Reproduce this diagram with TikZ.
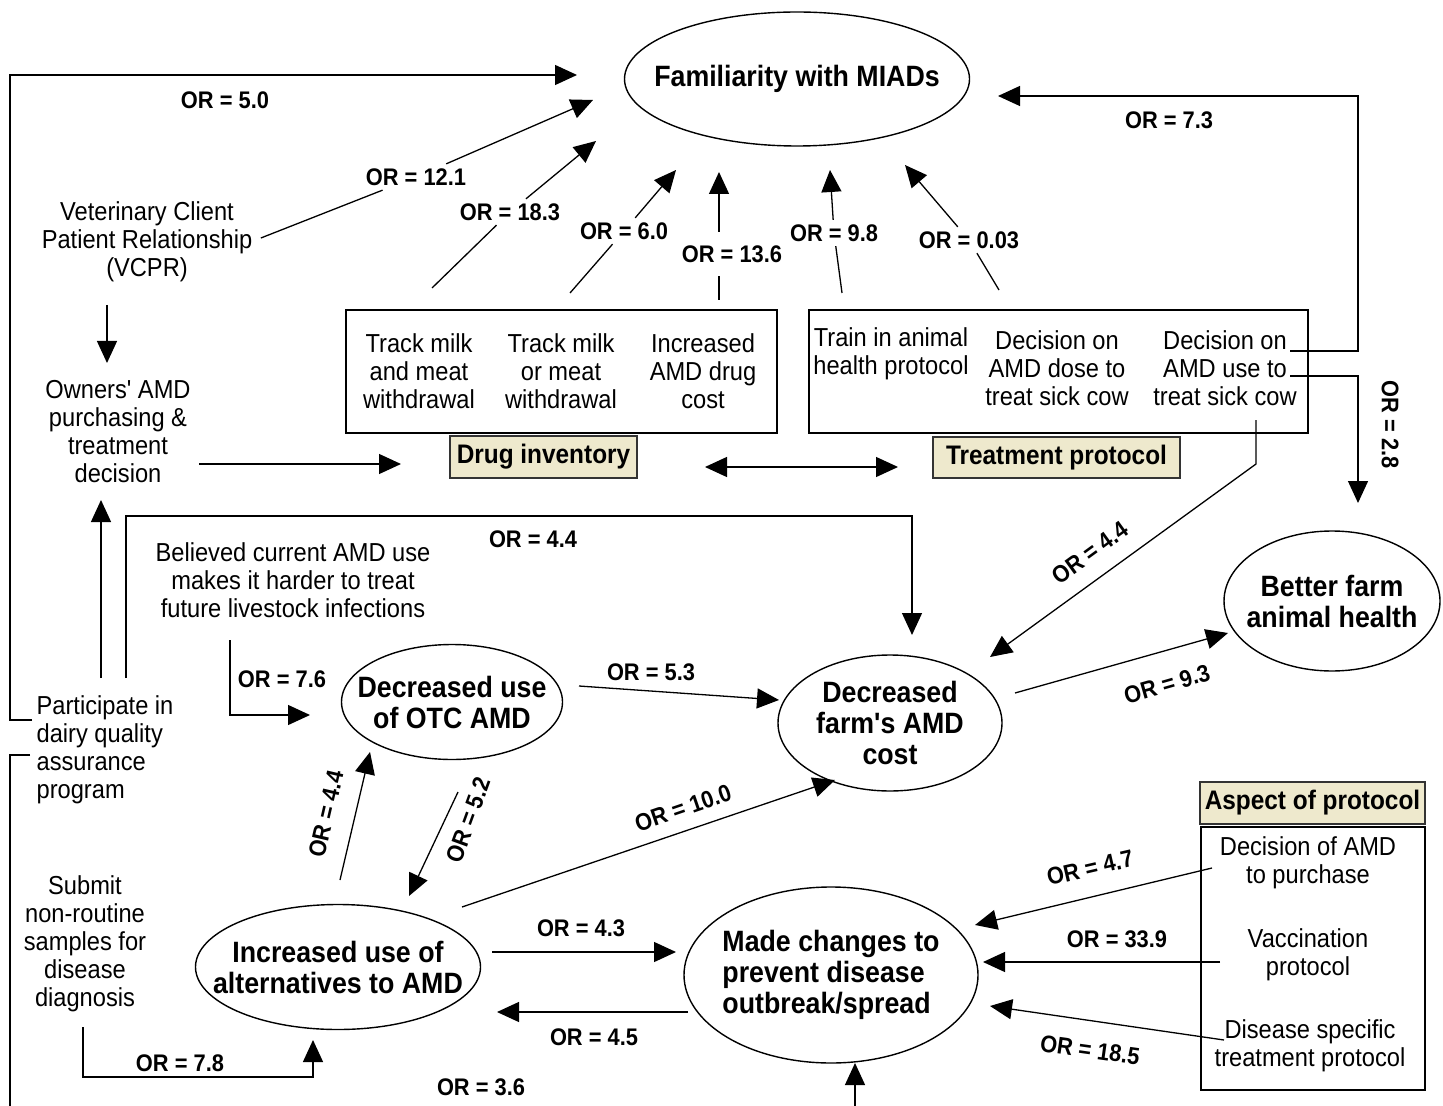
\documentclass[tikz,border=0pt]{standalone}
\usepackage{fontspec}
\setmainfont{Liberation Sans}[FakeStretch=0.91, Ligatures=TeXOff]
\usetikzlibrary{shapes.geometric,arrows.meta}

\definecolor{tagfill}{HTML}{EEE9CD}

\tikzset{
  txt/.style={align=center, inner sep=0pt, font=\fontsize{13}{14}\selectfont},
  orlab/.style={inner sep=2pt, font=\bfseries\fontsize{12}{13}\selectfont},
  oval/.style={draw, ellipse, inner sep=0pt, line width=0.7pt},
  ovaltxt/.style={align=center, inner sep=0pt, font=\bfseries\fontsize{14.7}{15.5}\selectfont},
  boxframe/.style={draw, rectangle, inner sep=0pt, line width=0.75pt},
  tag/.style={draw=black!80, fill=tagfill, rectangle, inner sep=0pt, line width=0.8pt,
    font=\bfseries\fontsize{13.4}{15}\selectfont},
  arr/.style={-{Triangle[length=11pt,width=10pt]}},
  dblarr/.style={{Triangle[length=11pt,width=10pt]}-{Triangle[length=11pt,width=10pt]}}
}

\begin{document}
\begin{tikzpicture}[x=0.5pt,y=-0.5pt,line width=0.65pt]
\useasboundingbox (0,0) rectangle (1443,1106);

% ovals
\node[oval, minimum width=172.5pt, minimum height=67pt] (fam) at (797,79) {};
\node[ovaltxt] at (fam) {Familiarity with MIADs};
\node[oval, minimum width=110.5pt, minimum height=57.5pt] (otc) at (452,702) {};
\node[ovaltxt] at (otc) {Decreased use\\of OTC AMD};
\node[oval, minimum width=112pt, minimum height=68pt] (cost) at (890,723) {};
\node[ovaltxt] at (cost) {Decreased\\farm's AMD\\cost};
\node[oval, minimum width=108pt, minimum height=70pt] (health) at (1332,601) {};
\node[ovaltxt] at (health) {Better farm\\animal health};
\node[oval, minimum width=142.5pt, minimum height=62.5pt] (alt) at (338,967) {};
\node[ovaltxt] at (alt) {Increased use of\\alternatives to AMD};
\node[oval, minimum width=147pt, minimum height=88pt] (prevent) at (831,975) {};
\node[ovaltxt, align=left] at (prevent) {Made changes to\\prevent disease\\outbreak/spread};

% plain texts
\node[txt] (vcpr) at (147,242) {Veterinary Client\\Patient Relationship\\(VCPR)};
\node[txt] (owners) at (118,432) {Owners' AMD\\purchasing \&\\treatment\\decision};
\node[txt, align=left, anchor=west] (dairy) at (36,750) {Participate in\\dairy quality\\assurance\\program};
\node[txt] (submit) at (85,944) {Submit\\non-routine\\samples for\\disease\\diagnosis};
\node[txt] (believe) at (293,580) {Believed current AMD use\\makes it harder to treat\\future livestock infections};

% drug inventory
\node[boxframe, minimum width=215.5pt, minimum height=61.5pt] (drugbox) at (561.5,371.5) {};
\node[txt] (milkand) at (419,371) {Track milk\\and meat\\withdrawal};
\node[txt] (milkor) at (561,371) {Track milk\\or meat\\withdrawal};
\node[txt] (drugcost) at (703,371) {Increased\\AMD drug\\cost};
\node[tag, minimum width=93.5pt, minimum height=21pt] (drugtag) at (543.5,457) {Drug inventory};

% treatment protocol
\node[boxframe, minimum width=249.5pt, minimum height=61.5pt] (treatbox) at (1058.5,371.5) {};
\node[txt] (train) at (891,354) {Train in animal\\health protocol};
\node[txt] (dose) at (1057,368) {Decision on\\AMD dose to\\treat sick cow};
\node[txt] (usecow) at (1225,368) {Decision on\\AMD use to\\treat sick cow};
\node[tag, minimum width=123.5pt, minimum height=20.5pt] (treattag) at (1056.5,457.5) {Treatment protocol};

% aspect of protocol
\node[tag, minimum width=112.5pt, minimum height=21pt] (aspecttag) at (1312.5,803) {Aspect of protocol};
\node[boxframe, minimum width=112pt, minimum height=131.5pt] (aspectbox) at (1313,958.5) {};
\node[txt] (purchase) at (1308,863) {Decision of AMD\\to purchase};
\node[txt] (vacc) at (1308,955) {Vaccination\\protocol};
\node[txt] (specific) at (1310,1046) {Disease specific\\treatment protocol};

% OR labels
\node[orlab] (or50) at (225,100) {OR = 5.0};
\node[orlab] (or121) at (416,177) {OR = 12.1};
\node[orlab] (or183) at (510,212) {OR = 18.3};
\node[orlab] (or60) at (624,231) {OR = 6.0};
\node[orlab] (or136) at (732,254) {OR = 13.6};
\node[orlab] (or98) at (834,233) {OR = 9.8};
\node[orlab] (or003) at (969,240) {OR = 0.03};
\node[orlab] (or73) at (1169,120) {OR = 7.3};
\node[orlab, rotate=-90] (or28) at (1390,425) {OR = 2.8};
\node[orlab, rotate=36] (or44r) at (1090,553) {OR = 4.4};
\node[orlab] (or44t) at (533,539) {OR = 4.4};
\node[orlab] (or76) at (282,679) {OR = 7.6};
\node[orlab] (or53) at (651,672) {OR = 5.3};
\node[orlab, rotate=16] (or93) at (1167,684) {OR = 9.3};
\node[orlab, rotate=77] (or44l) at (326,814) {OR = 4.4};
\node[orlab, rotate=70] (or52) at (468,820) {OR = 5.2};
\node[orlab, rotate=19] (or100) at (683,808) {OR = 10.0};
\node[orlab] (or43) at (581,928) {OR = 4.3};
\node[orlab] (or45) at (594,1037) {OR = 4.5};
\node[orlab] (or78) at (180,1063) {OR = 7.8};
\node[orlab] (or36) at (481,1087) {OR = 3.6};
\node[orlab, rotate=13] (or47) at (1090,868) {OR = 4.7};
\node[orlab] (or339) at (1117,939) {OR = 33.9};
\node[orlab, rotate=-8] (or185) at (1090,1050) {OR = 18.5};

% arrow ends
\coordinate (famA) at (577,75);
\coordinate (famB) at (593,100);
\coordinate (famC) at (596,141);
\coordinate (famD) at (676,170);
\coordinate (famE) at (719,172);
\coordinate (famF) at (830,170);
\coordinate (famG) at (905,165);
\coordinate (famH) at (998,96);
\coordinate (healthN) at (1358,503);
\coordinate (costNE) at (990,657);
\coordinate (costN) at (912,635);
\coordinate (otcW) at (310,715);

% links to familiarity
\draw[arr] (32,720) -- (10,720) -- (10,75) -- (famA);
\draw ([shift={(8,-4)}]vcpr.east) -- (or121);
\draw[arr] (or121) -- (famB);
\draw (432,288) -- (or183);
\draw[arr] (or183) -- (famC);
\draw (570,293) -- (or60);
\draw[arr] (or60) -- (famD);
\draw (719,300) -- (719,276);
\draw[arr] (719,232) -- (famE);
\draw (842,293) -- (or98);
\draw[arr] (or98) -- (famF);
\draw (999,290) -- (or003);
\draw[arr] (or003) -- (famG);
\draw[arr] (1290,351) -- (1358,351) -- (1358,96) -- (famH);
\draw[arr] (1290,376) -- (1358,376) -- (healthN);
\draw[arr] (1256,420) -- (1256,464) -- (costNE);

% left side
\draw[arr] (107,305) -- (107,363);
\draw[arr] (199,464) -- (401,464);
\draw[dblarr] (705,467) -- (898,467);
\draw[arr] (101,678) -- (101,500);
\draw[arr] (126,678) -- (126,516) -- (912,516) -- (costN);
\draw (30,755) -- (10,755) -- (10,1106);
\draw[arr] (230,640) -- (230,715) -- (otcW);
\draw[arr] (83,1027) -- (83,1077) -- (313,1077) -- (313,1040);

% middle
\draw[arr] (579,686) -- (779,700);
\draw[arr] (1015,693) -- (1228,633);
\draw[arr] (340,880) -- (370,752);
\draw[arr] (458,792) -- (409,896);
\draw[arr] (462,907) -- (835,780);
\draw[arr] (492,952) -- (676,952);
\draw[arr] (688,1012) -- (497,1012);
\draw[arr] (855,1106) -- (855,1063);

% aspect of protocol links
\draw[arr] (1212,868) -- (975,925);
\draw[arr] (1220,962) -- (983,962);
\draw[arr] (1224,1040) -- (990,1006);
\end{tikzpicture}
\end{document}
